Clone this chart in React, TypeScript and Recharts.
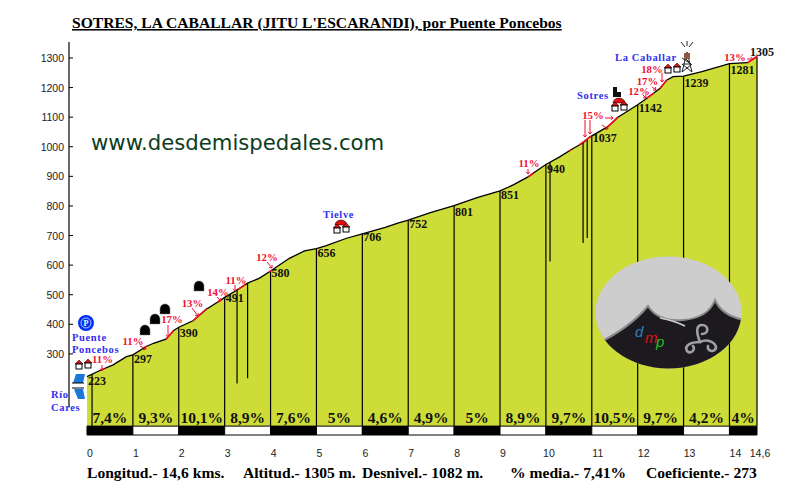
import { ComposedChart, Area, XAxis, YAxis, ReferenceLine, ReferenceArea, ReferenceDot } from 'recharts'

const profileKm = [0, 0.28, 0.57, 0.86, 1, 1.29, 1.45, 1.72, 1.89, 2, 2.31, 2.6, 2.92, 3, 3.27, 3.5, 3.76, 4, 4.41, 4.74, 5, 5.2, 5.64, 6, 6.5, 6.79, 7, 7.5, 8, 8.5, 9, 9.3, 9.62, 9.8, 10, 10.3, 10.6, 10.8, 10.95, 11, 11.35, 11.57, 12, 12.2, 12.49, 12.63, 12.77, 13, 13.4, 14, 14.39, 14.6]
const profileElev = [223, 244, 263, 291, 297, 325, 336, 350, 379, 390, 412, 451, 482, 491, 516, 539, 556, 580, 623, 648, 656, 665, 690, 706, 728, 743, 752, 778, 801, 828, 851, 872, 899, 919, 940, 966, 995, 1012, 1033, 1037, 1068, 1100, 1142, 1164, 1198, 1225, 1237, 1239, 1254, 1281, 1284, 1305]

const kmTicks = [0, 1, 2, 3, 4, 5, 6, 7, 8, 9, 10, 11, 12, 13, 14, 14.6]
const elevTicks = [300, 400, 500, 600, 700, 800, 900, 1000, 1100, 1200, 1300]
const kmElev = [223, 297, 390, 491, 580, 656, 706, 752, 801, 851, 940, 1037, 1142, 1239, 1281, 1305]
const kmSlopes = ['7,4%', '9,3%', '10,1%', '8,9%', '7,6%', '5%', '4,6%', '4,9%', '5%', '8,9%', '9,7%', '10,5%', '9,7%', '4,2%', '4%']

// extra drop lines that stop part of the way down: [km, top elev, bottom elev]
const shortDrops = [
  [0.11, 231, 56],
  [3.27, 516, 200],
  [3.5, 539, 218],
  [10.09, 948, 612],
  [10.81, 1013, 675],
  [10.9, 1024, 692],
]

// steep stretches painted red on the profile
const steepFrom = [0.3, 1.27, 1.72, 2.31, 2.85, 3.3, 3.97, 9.62, 10.5, 10.72, 11.35, 12.2, 12.49, 14.39]
const steepTo = [0.38, 1.33, 1.89, 2.6, 2.92, 3.45, 4.03, 9.72, 10.55, 10.98, 11.57, 12.35, 12.63, 14.6]

const steepLabels = ['11%', '11%', '17%', '13%', '14%', '11%', '12%', '11%', '15%', '12%', '17%', '18%', '13%']
const steepLabelX = [102.5, 133, 172, 192.5, 218, 236, 267, 529, 593, 639, 647.5, 652, 735]
const steepLabelY = [359, 341, 319, 303, 292, 280, 257, 163, 115, 90.5, 81, 69, 57]

const arrows = [
  [102, 365, 102, 371], [140, 346, 146, 349], [168, 325, 168, 337], [192, 308, 198, 316],
  [217, 297, 221, 301], [235, 285, 235, 291], [267, 262, 272, 268], [528, 169, 528, 174],
  [585, 120, 585, 137], [590, 120, 590, 134], [605, 118, 613, 118], [602, 125, 608, 129],
  [643, 95, 646, 98], [652, 87, 656, 90], [662, 73, 662, 82], [747, 59, 753, 59],
]

const tunnels = [[145, 331], [155, 320], [165, 310], [199, 287]]

const placeNames = ['Puente', 'Poncebos', 'Río', 'Cares', 'Tielve', 'Sotres', 'La Caballar']
const placeX = [72, 72, 51, 51, 323, 577, 615]
const placeY = [341, 353, 398, 411, 218, 99, 61]

const footerTexts = ['Longitud.- 14,6 kms.', 'Altitud.- 1305 m.', 'Desnivel.- 1082 m.', '% media.- 7,41%', 'Coeficiente.- 273']
const footerX = [87, 243, 362, 510, 646]

const data = profileKm.map((km, i) => ({ km, elev: profileElev[i] }))

const SERIF = '"Liberation Serif", serif'
const SANS = '"Liberation Sans", sans-serif'
const BAND_TOP = 56
const GREEN = '#cedc37'
// how far each km altitude label sits below the profile
const elevLabelDy = [8, 8, 10, 5, 6, 8, 7, 8, 10, 8, 8, 6, 7, 11, 10, -1]

const elevAt = (km: number) => {
  const i = profileKm.findIndex(k => k >= km)
  if (profileKm[i] === km) return profileElev[i]
  const t = (km - profileKm[i - 1]) / (profileKm[i] - profileKm[i - 1])
  return profileElev[i - 1] + t * (profileElev[i] - profileElev[i - 1])
}

function ElevTick({ y, payload }: any) {
  return (
    <g>
      <line x1={69} x2={73} y1={y} y2={y} stroke="#000" />
      <text x={64} y={y + 4} textAnchor="end" fontFamily={SANS} fontSize={10.5} fill="#222">{payload.value}</text>
    </g>
  )
}

function KmTick({ x, payload }: any) {
  const v = payload.value
  const dx = v >= 11 && v <= 14 ? 6 : 3
  return (
    <text x={x + dx} y={457} textAnchor="middle" fontFamily={SANS} fontSize={10.5} fill="#222">
      {String(v).replace('.', ',')}
    </text>
  )
}

function House({ x, y }: { x: number; y: number }) {
  return (
    <g>
      <path d={`M${x - 4} ${y}L${x} ${y - 4}L${x + 4} ${y}Z`} fill="#e01010" stroke="#000" strokeWidth={0.5} />
      <rect x={x - 3} y={y} width={6} height={5} fill="#fff" stroke="#000" />
    </g>
  )
}

function Village({ x, y }: { x: number; y: number }) {
  return (
    <g>
      <path d={`M${x - 6} ${y}A6 5 0 0 1 ${x + 6} ${y}Z`} fill="#e01010" stroke="#000" strokeWidth={0.5} />
      <House x={x - 4} y={y + 3} />
      <House x={x + 5} y={y + 2} />
    </g>
  )
}

function Tunnel({ x, y }: { x: number; y: number }) {
  return (
    <path
      d={`M${x - 5} ${y + 4}V${y - 1}A5 5 0 0 1 ${x + 5} ${y - 1}V${y + 4}Z`}
      fill="#000"
      stroke="#777"
      strokeDasharray="1 1"
    />
  )
}

function Logo() {
  return (
    <g>
      <defs>
        <clipPath id="oval">
          <ellipse cx={668.5} cy={312.5} rx={73} ry={56} />
        </clipPath>
      </defs>
      <ellipse cx={668.5} cy={312.5} rx={73} ry={56} fill="#cdcdcd" />
      <g clipPath="url(#oval)">
        <path d="M590 347Q628 330 648 306Q658 322 683 320Q708 318 715 300Q722 316 745 320V375H590Z" fill="#1c1a1e" stroke="#8a8a8a" strokeWidth={2} />
        <path d="M660 318Q675 321 685 326" stroke="#cdcdcd" strokeWidth={1.5} fill="none" />
      </g>
      <text x={635} y={337} fontFamily={SANS} fontStyle="italic" fontSize={15} fill="#2f80c0">d</text>
      <text x={645} y={343} fontFamily={SANS} fontStyle="italic" fontSize={15} fill="#e01010">m</text>
      <text x={656} y={347} fontFamily={SANS} fontStyle="italic" fontSize={15} fill="#20c020">p</text>
      <g fill="none" stroke="#a0a0a0" strokeWidth={2.6} strokeLinecap="round">
        <path d="M700 342C696 332 696 325 702 325C709 325 709 334 702 334" />
        <path d="M700 342C690 342 684 346 687 351C691 355 696 349 693 346" />
        <path d="M700 342C708 338 716 343 716 348C714 353 707 351 708 346" />
      </g>
    </g>
  )
}

function Tower() {
  return (
    <g stroke="#222" fill="none" strokeWidth={1}>
      <path d="M682 72L687 52L692 72" />
      <path d="M682 72L692 64M692 72L682 64M683 64H691L682 58M691 64L685 58" />
      <rect x={684} y={53} width={6} height={6} fill="#8a5a44" stroke="none" />
      <path d="M681 42L685 47M693 42L689 47M687 41V46" />
    </g>
  )
}

function Overlay() {
  return (
    <svg width={800} height={500} style={{ position: 'absolute', left: 0, top: 0, pointerEvents: 'none' }}>
      <text x={72} y={28} fontFamily={SERIF} fontWeight="bold" fontSize={15.6} textDecoration="underline" fill="#000">
        SOTRES, LA CABALLAR (JITU L&apos;ESCARANDI), por Puente Poncebos
      </text>
      <text x={91} y={150} fontFamily='"DejaVu Sans", sans-serif' fontSize={21.2} fill="#0d3d1c">www.desdemispedales.com</text>
      <Logo />
      {steepLabels.map((t, i) => (
        <text key={i} x={steepLabelX[i]} y={steepLabelY[i] + 4} textAnchor="middle" fontFamily={SERIF} fontWeight="bold" fontSize={10.8} fill="#f01030">{t}</text>
      ))}
      {arrows.map(([x1, y1, x2, y2], i) => {
        const a = Math.atan2(y2 - y1, x2 - x1)
        return (
          <g key={i} stroke="#f01030" fill="none">
            <line x1={x1} y1={y1} x2={x2} y2={y2} />
            <path d={`M${x2 - 3 * Math.cos(a - 0.7)} ${y2 - 3 * Math.sin(a - 0.7)}L${x2} ${y2}L${x2 - 3 * Math.cos(a + 0.7)} ${y2 - 3 * Math.sin(a + 0.7)}`} />
          </g>
        )
      })}
      {placeNames.map((t, i) => (
        <text key={i} x={placeX[i]} y={placeY[i]} fontFamily={SERIF} fontWeight="bold" fontSize={10.5} letterSpacing={0.65} fill="#3030f0">{t}</text>
      ))}
      {tunnels.map(([x, y], i) => <Tunnel key={i} x={x} y={y} />)}
      <circle cx={86} cy={323} r={8} fill="#0030f0" />
      <circle cx={86} cy={323} r={5} fill="none" stroke="#fff" strokeWidth={0.7} />
      <text x={86} y={326} textAnchor="middle" fontFamily={SERIF} fontWeight="bold" fontSize={8} fill="#fff">P</text>
      <House x={79} y={364} />
      <House x={88} y={363} />
      <path d="M76 374H85L83 383H73Z M74 389H83L85 399H78Z" fill="#1a78d8" />
      <path d="M72 383H84M72 388H84" stroke="#000" strokeWidth={1.2} />
      <Village x={341} y={225} />
      <Village x={619} y={103} />
      <path d="M613 87H617V92H621V97H613Z" fill="#111" />
      <House x={668} y={68} />
      <House x={677} y={67} />
      <Tower />
      {footerTexts.map((t, i) => (
        <text key={i} x={footerX[i]} y={478} fontFamily={SERIF} fontWeight="bold" fontSize={15.6} fill="#000">{t}</text>
      ))}
    </svg>
  )
}

export default function App() {
  return (
    <div style={{ position: 'absolute', left: 0, top: 0, width: 800, height: 500, background: '#fff' }}>
      <ComposedChart width={800} height={500} data={data} margin={{ top: 42, right: 43, bottom: 0, left: 0 }}>
        <XAxis
          dataKey="km"
          type="number"
          domain={[-0.392, 14.6]}
          ticks={kmTicks}
          interval={0}
          height={65}
          axisLine={false}
          tickLine={false}
          tick={<KmTick />}
        />
        <YAxis
          type="number"
          domain={[26, 1354]}
          ticks={elevTicks}
          interval={0}
          width={69}
          axisLine={false}
          tickLine={false}
          allowDataOverflow
          tick={<ElevTick />}
        />
        <Area
          dataKey="elev"
          type="linear"
          baseValue={BAND_TOP}
          fill={GREEN}
          fillOpacity={1}
          stroke="#000"
          strokeWidth={1.3}
          dot={false}
          activeDot={false}
          isAnimationActive={false}
        />
        <ReferenceLine segment={[{ x: -0.392, y: 121 }, { x: -0.392, y: 1354 }]} stroke="#000" strokeWidth={1.2} />
        {kmTicks.slice(0, -1).map((km, i) => (
          <ReferenceArea
            key={km}
            x1={km}
            x2={kmTicks[i + 1]}
            y1={26}
            y2={BAND_TOP}
            fill={i % 2 === 0 ? '#000' : '#fff'}
            fillOpacity={1}
            stroke="#000"
          />
        ))}
        {kmTicks.slice(1).map((km, i) => (
          <ReferenceLine key={km} segment={[{ x: km, y: BAND_TOP }, { x: km, y: kmElev[i + 1] }]} stroke="#000" strokeWidth={1.2} />
        ))}
        {shortDrops.map(([km, top, bottom]) => (
          <ReferenceLine key={km} segment={[{ x: km, y: bottom }, { x: km, y: top }]} stroke="#000" strokeWidth={1.2} />
        ))}
        {steepFrom.map((from, i) => (
          <ReferenceLine
            key={from}
            segment={[{ x: from, y: elevAt(from) }, { x: steepTo[i], y: elevAt(steepTo[i]) }]}
            stroke="#f01030"
            strokeWidth={1.6}
          />
        ))}
        {kmTicks.map((km, i) => (
          <ReferenceDot
            key={km}
            x={km}
            y={kmElev[i]}
            r={0}
            shape={({ cx, cy }: any) => (
              <text
                x={km === 14.6 ? cx - 7 : cx + 1}
                y={cy + elevLabelDy[i]}
                fontFamily={SERIF}
                fontWeight="bold"
                fontSize={12}
                fill="#111"
              >
                {kmElev[i]}
              </text>
            )}
          />
        ))}
        {kmSlopes.map((s, i) => (
          <ReferenceDot
            key={i}
            x={(kmTicks[i] + kmTicks[i + 1]) / 2}
            y={BAND_TOP}
            r={0}
            shape={({ cx, cy }: any) => (
              <text x={cx} y={cy - 3} textAnchor="middle" fontFamily={SERIF} fontWeight="bold" fontSize={15.5} fill="#111">{s}</text>
            )}
          />
        ))}
      </ComposedChart>
      <Overlay />
    </div>
  )
}
